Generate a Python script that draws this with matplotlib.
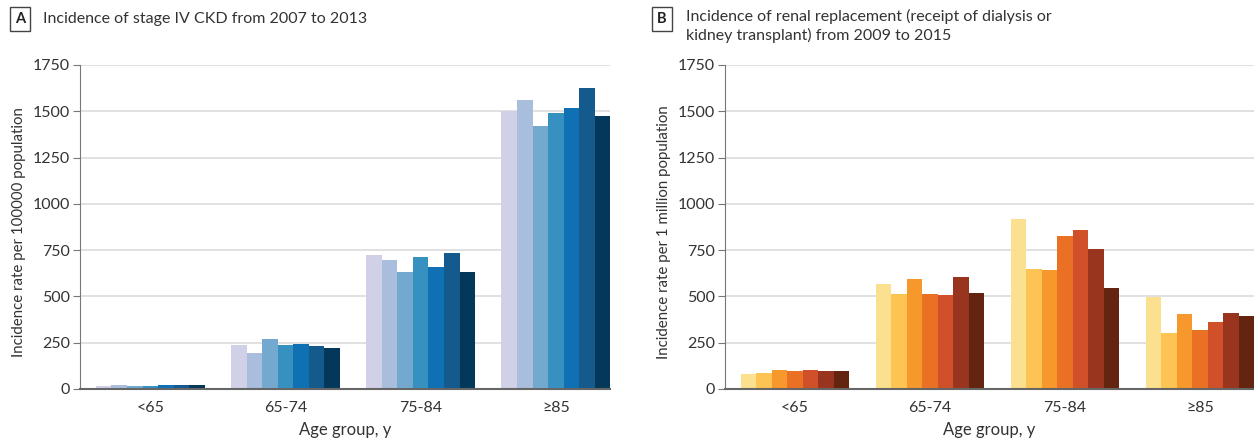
import matplotlib.pyplot as plt
import numpy as np

plt.rcParams['font.family'] = ['Lato', 'DejaVu Sans']

age_groups = ['<65', '65-74', '75-84', '≥85']

# panel A: stage IV CKD per 100 000, 2007..2013
ckd_years = ['2007', '2008', '2009', '2010', '2011', '2012', '2013']
ckd_lt65 = [15, 20, 15, 15, 20, 20, 20]
ckd_65_74 = [235, 195, 272, 235, 241, 231, 220]
ckd_75_84 = [722, 697, 632, 713, 659, 735, 632]
ckd_ge85 = [1500, 1562, 1422, 1488, 1520, 1628, 1472]

# panel B: renal replacement per 1 million, 2009..2015
rrt_years = ['2009', '2010', '2011', '2012', '2013', '2014', '2015']
rrt_lt65 = [80, 86, 101, 96, 101, 96, 96]
rrt_65_74 = [568, 514, 595, 514, 509, 605, 520]
rrt_75_84 = [916, 648, 643, 825, 857, 755, 546]
rrt_ge85 = [498, 300, 407, 316, 359, 412, 396]

blues = ['#d0d1e6', '#a9bedd', '#74a9cf', '#3690c0', '#0f70b4', '#155a8d', '#04385a']
oranges = ['#fbe18f', '#fdc453', '#f7982c', '#ea7124', '#cf5029', '#99351f', '#632410']

text_col = '#333333'


def draw_panel(ax, groups, colors, ylabel):
    values = np.array(groups)  # rows: age group, cols: year
    n = values.shape[1]
    width = 0.115
    x = np.arange(len(age_groups))
    for i in range(n):
        ax.bar(x + (i - (n - 1) / 2) * width, values[:, i], width,
               color=colors[i], zorder=2)
    ax.set_xlim(-0.52, 3.40)
    ax.set_ylim(0, 1750)
    ax.set_yticks(np.arange(0, 1751, 250))
    ax.set_xticks(x)
    ax.set_xticklabels(age_groups)
    ax.grid(axis='y', color='#dcdcdc', linewidth=1.2, zorder=0)
    ax.set_axisbelow(True)
    for s in ['top', 'right']:
        ax.spines[s].set_visible(False)
    ax.spines['left'].set_color('#777777')
    ax.spines['bottom'].set_color('#666666')
    ax.spines['bottom'].set_linewidth(1.5)
    ax.spines['bottom'].set_zorder(3)
    ax.tick_params(axis='x', length=0, pad=9, labelsize=11.5, labelcolor=text_col)
    ax.tick_params(axis='y', length=5, color='#777777', labelsize=11.5,
                   labelcolor=text_col, pad=2)
    ax.set_xlabel('Age group, y', fontsize=12, color=text_col, labelpad=5)
    ax.set_ylabel(ylabel, fontsize=10.8, color=text_col)
    ax.yaxis.set_label_coords(-0.102, 0.485)


def panel_label(fig, x, y, letter):
    fig.text(x, y, letter, fontsize=10.5, fontweight='bold', color='#222222',
             ha='center', va='center',
             bbox=dict(boxstyle='square,pad=0.35', fc='white', ec='#444444', lw=1))


fig = plt.figure(figsize=(12.54, 4.42), dpi=100)

axA = fig.add_axes([0.0638, 0.12, 0.4226, 0.733])
draw_panel(axA, [ckd_lt65, ckd_65_74, ckd_75_84, ckd_ge85], blues,
           'Incidence rate per 100000 population')

axB = fig.add_axes([0.578, 0.12, 0.4219, 0.733])
draw_panel(axB, [rrt_lt65, rrt_65_74, rrt_75_84, rrt_ge85], oranges,
           'Incidence rate per 1 million population')

panel_label(fig, 20 / 1254, 1 - 19 / 442, 'A')
fig.text(43 / 1254, 1 - 19 / 442, 'Incidence of stage IV CKD from 2007 to 2013',
         fontsize=11.5, color=text_col, va='center')

panel_label(fig, 662 / 1254, 1 - 19 / 442, 'B')
fig.text(686 / 1254, 1 - 9 / 442,
         'Incidence of renal replacement (receipt of dialysis or\nkidney transplant) from 2009 to 2015',
         fontsize=11.5, color=text_col, va='top', linespacing=1.35)

fig.savefig('out.png', dpi=100)
